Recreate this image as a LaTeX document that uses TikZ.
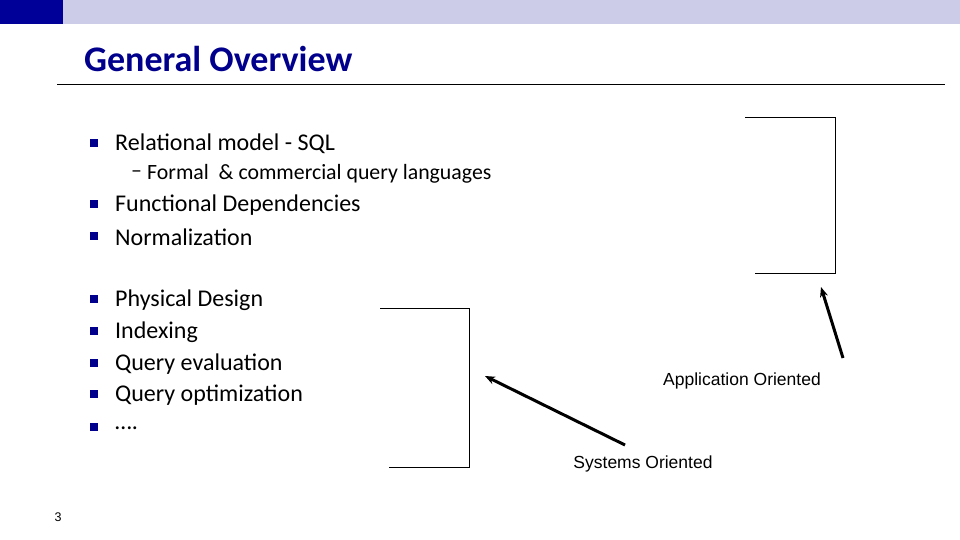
\documentclass[tikz,border=0pt]{standalone}
\usepackage{fontspec}
\setmainfont{Carlito}
\newfontfamily\labelfont{Liberation Sans}
\usetikzlibrary{arrows.meta}
\definecolor{navy}{RGB}{0,0,140}
\definecolor{lavender}{RGB}{204,204,232}
\definecolor{darkbar}{RGB}{0,0,153}
\tikzset{
    item/.style={anchor=west, inner sep=0pt, font=\fontsize{24}{24}\selectfont},
    subitem/.style={anchor=west, inner sep=0pt, font=\fontsize{21.8}{22}\selectfont},
    bul/.style={fill=navy, minimum size=8pt, inner sep=0pt},
    tag/.style={inner sep=0pt, font=\labelfont\fontsize{17.5}{17.5}\selectfont},
    pointer/.style={line width=3pt, -{Stealth[length=10pt,width=8pt]}},
}
\begin{document}
\begin{tikzpicture}[x=1pt,y=-1pt]
    \useasboundingbox (0,0) rectangle (960,540);
    \fill[lavender] (0,0) rectangle (960,24);
    \fill[darkbar] (0,0) rectangle (63,24);
    \node[anchor=west, inner sep=0pt, text=navy, font=\bfseries\fontsize{36}{36}\selectfont] (title) at (84,59) {General Overview};
    \draw[line width=0.6pt] (57,84) -- (945,84);
    \foreach \y/\txt [count=\i] in {143/Relational model - SQL, 204/Functional Dependencies,
        236/Normalization, 299/Physical Design, 331/Indexing, 363/Query evaluation,
        394/Query optimization, 427/{\dots.}} {
        \node[bul] (b\i) at (94,\y) {};
        \node[item] (t\i) at (115,\y+1) {\txt};
    }
    \node[subitem] (dash) at (131,174) {--};
    \node[subitem] (sub) at (147,174) {Formal \ \& commercial query languages};
    % brackets
    \draw[line width=0.6pt] (745,117) -- (835,117) -- (835,273) -- (755,273);
    \draw[line width=0.6pt] (380,308) -- (469,308) -- (469,467) -- (389,467);
    \node[tag] (app) at (742,381) {Application Oriented};
    \node[tag] (sys) at (643,464) {Systems Oriented};
    \coordinate (appfrom) at (843,358);
    \coordinate (appto) at (821,287);
    \coordinate (sysfrom) at (625,445);
    \coordinate (systo) at (485,376);
    \draw[pointer] (appfrom) -- (appto);
    \draw[pointer] (sysfrom) -- (systo);
    \node[inner sep=0pt, font=\labelfont\fontsize{12.5}{12.5}\selectfont] (page) at (58,517) {3};
\end{tikzpicture}
\end{document}
